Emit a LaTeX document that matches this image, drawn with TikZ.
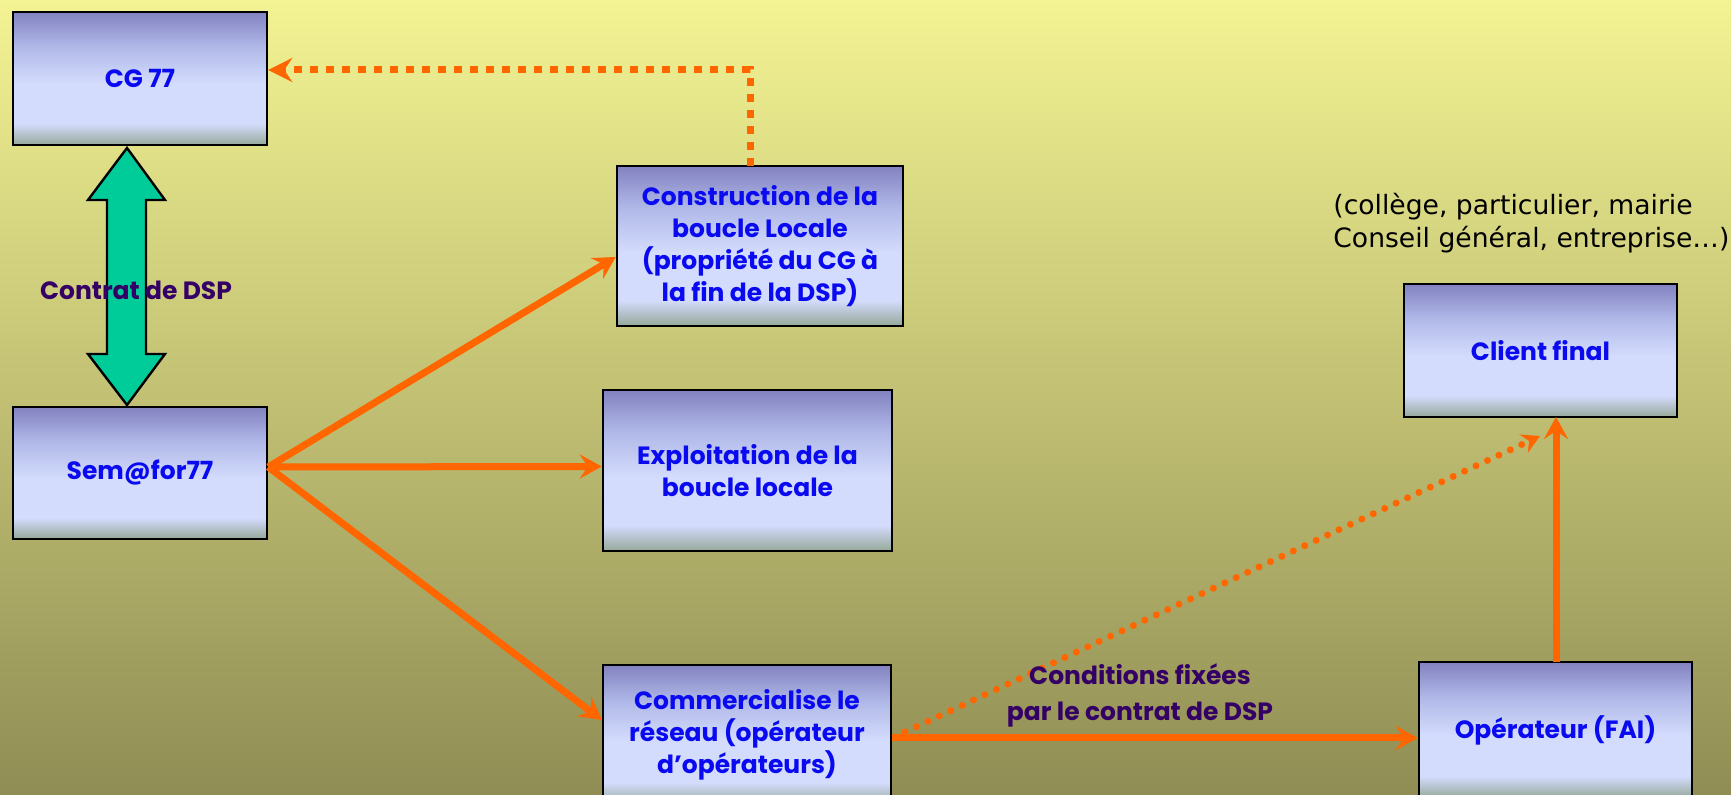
\documentclass[tikz,border=0pt]{standalone}
\usepackage{fontspec}
\setmainfont{Poppins}
\newfontfamily\verd{DejaVu Sans}
\usetikzlibrary{arrows.meta,calc}
\definecolor{bgtop}{RGB}{243,243,147}
\definecolor{bgbot}{RGB}{143,141,84}
\definecolor{bxtop}{RGB}{130,130,192}
\definecolor{bxmid}{RGB}{176,184,232}
\definecolor{bxlight}{RGB}{211,220,252}
\definecolor{bxbot}{RGB}{150,168,154}
\definecolor{txtblue}{RGB}{10,10,240}
\definecolor{lblpurple}{RGB}{52,0,102}
\definecolor{orng}{RGB}{255,102,0}
\definecolor{teal}{RGB}{0,204,153}
\pgfdeclareverticalshading{boxshade}{100bp}{color(0bp)=(bxbot); color(25bp)=(bxbot); color(33bp)=(bxlight); color(48bp)=(bxlight); color(62bp)=(bxmid); color(75bp)=(bxtop); color(100bp)=(bxtop)}
\tikzset{
  box/.style={draw=black, line width=1.2pt, shading=boxshade, align=center,
    text=txtblue, font=\bfseries\fontsize{12.5}{16}\selectfont, inner sep=0pt},
  lbl/.style={text=lblpurple, font=\bfseries\fontsize{12.5}{18}\selectfont, align=center},
  solidarrow/.style={draw=orng, line width=3.5pt,
    -{Stealth[length=11pt,width=12pt,inset=4pt]}},
  squaredots/.style={draw=orng, line width=3.5pt, dash pattern=on 4pt off 4pt,
    -{Stealth[length=12pt,width=12pt,inset=4pt]}},
  rounddots/.style={draw=orng, line width=3.5pt, line cap=round, dash pattern=on 0pt off 6.3pt,
    -{Stealth[length=9pt,width=10pt,inset=3pt]}}
}
\begin{document}
\begin{tikzpicture}[x=0.5pt,y=-0.5pt]
\useasboundingbox (0,0) rectangle (1731,795);
\clip (0,0) rectangle (1731,795);
\fill[top color=bgtop, bottom color=bgbot] (0,0) rectangle (1731,795);

% boxes
\node[box, minimum width=127pt, minimum height=66.5pt] (cg) at (140,78.5) {CG 77};
\node[box, minimum width=127pt, minimum height=66pt] (sem) at (140,473) {Sem@for77};
\node[box, minimum width=143pt, minimum height=80pt] (cons) at (760,246)
  {Construction de la\\boucle Locale\\(propriété du CG à\\la fin de la DSP)};
\node[box, minimum width=144.5pt, minimum height=80.5pt] (expl) at (747.5,470.5)
  {Exploitation de la\\boucle locale};
\node[box, minimum width=144pt, minimum height=70pt] (comm) at (747,735)
  {Commercialise le\\réseau (opérateur\\d’opérateurs)};
\node[box, minimum width=136.5pt, minimum height=66.5pt] (client) at (1540.5,350.5) {Client final};
\node[box, minimum width=136.5pt, minimum height=68pt] (oper) at (1555.5,730) {Opérateur (FAI)};

% free text
\node[anchor=west, align=left, text=black, font=\verd\fontsize{13.3}{16.5}\selectfont, inner sep=0pt] (note) at (1333,223.5)
  {(collège, particulier, mairie\\Conseil général, entreprise…)};

% double arrow
\draw[fill=teal, draw=black, line width=1.2pt, line join=miter]
  (127,148) -- (165,200) -- (146,200) -- (146,354) -- (165,354) -- (127,405)
  -- (88,354) -- (107,354) -- (107,200) -- (88,200) -- cycle;
\node[lbl] (contrat) at (136,290) {Contrat de DSP};

% connectors
\coordinate (s0) at ($(sem.east)+(0,-6)$);
\coordinate (c0) at ($(cons.west)+(0,11)$);
\coordinate (e0) at ($(expl.west)+(0,-4)$);
\coordinate (m0) at ($(comm.west)+(0,-15)$);
\draw[solidarrow] (s0) -- (c0);
\draw[solidarrow] (s0) -- (e0);
\draw[solidarrow] (s0) -- (m0);

\coordinate (ctop) at (750,166);
\coordinate (corner) at (750,70);
\coordinate (cgin) at ($(cg.east)+(0,-8.5)$);
\draw[squaredots] (ctop) -- (corner) -- (cgin);

\coordinate (m1) at ($(comm.east)+(0,3)$);
\coordinate (o1) at (oper.west |- m1);
\draw[solidarrow] (m1) -- (o1);

\coordinate (o2) at (1556,662);
\coordinate (cl2) at (1556,417);
\draw[solidarrow] (o2) -- (cl2);

\coordinate (d0) at (905,732);
\coordinate (d1) at (1540,436);
\draw[rounddots] (d0) -- (d1);

\node[lbl] (cond) at (1140,695) {Conditions fixées\\par le contrat de DSP};
\end{tikzpicture}
\end{document}
